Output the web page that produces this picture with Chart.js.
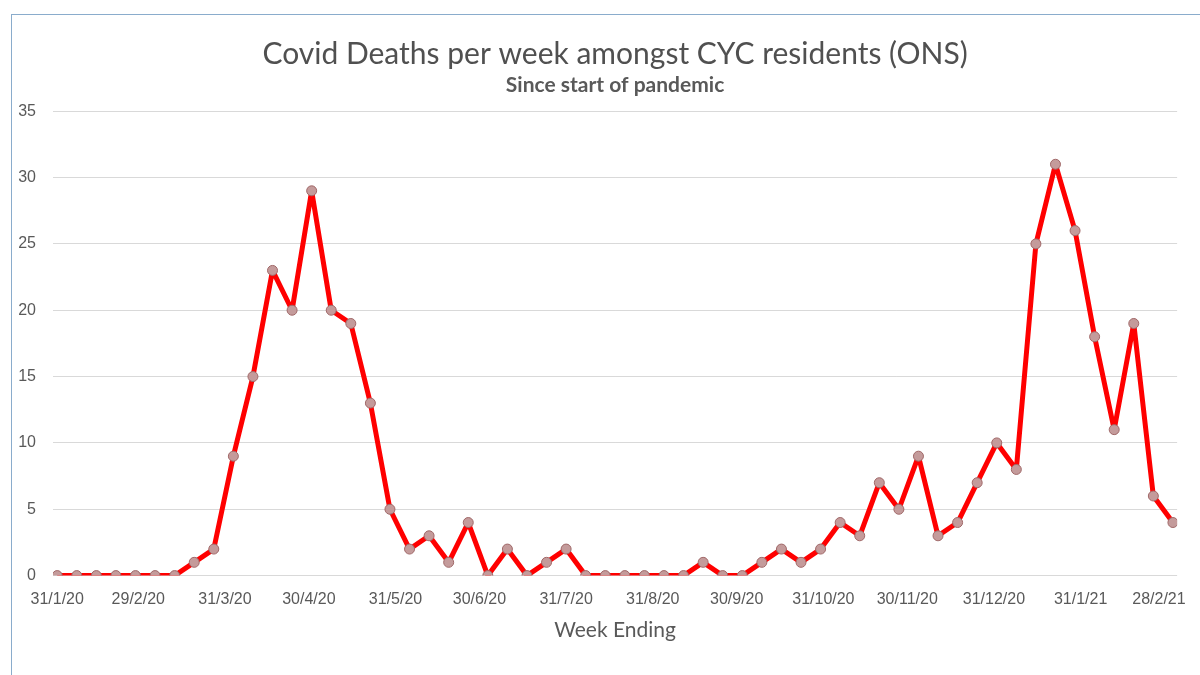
<!DOCTYPE html>
<html>
<head>
<meta charset="utf-8">
<title>Covid Deaths per week amongst CYC residents (ONS)</title>
<script src="https://cdn.jsdelivr.net/npm/chart.js@4/dist/chart.umd.min.js"></script>
<style>
  html, body { margin: 0; padding: 0; background: #fff; }
  #wrap { position: relative; width: 1200px; height: 675px; overflow: hidden; }
  #frame { position: absolute; left: 11px; top: 14px; width: 1300px; height: 800px;
           border-left: 1px solid #8aaccc; border-top: 1px solid #8aaccc; pointer-events: none; }
  canvas { position: absolute; left: 0; top: 0; }
</style>
</head>
<body>
<div id="wrap">
  <canvas id="deathsChart" width="1200" height="675"></canvas>
  <div id="frame"></div>
</div>
<script>
// week ending dates (ONS weeks, Fridays)
const weekEnding = [
  '31/1/20', '7/2/20', '14/2/20', '21/2/20', '28/2/20', '6/3/20', '13/3/20', '20/3/20', '27/3/20',
  '3/4/20', '10/4/20', '17/4/20', '24/4/20', '1/5/20', '8/5/20', '15/5/20', '22/5/20', '29/5/20',
  '5/6/20', '12/6/20', '19/6/20', '26/6/20', '3/7/20', '10/7/20', '17/7/20', '24/7/20', '31/7/20',
  '7/8/20', '14/8/20', '21/8/20', '28/8/20', '4/9/20', '11/9/20', '18/9/20', '25/9/20',
  '2/10/20', '9/10/20', '16/10/20', '23/10/20', '30/10/20', '6/11/20', '13/11/20', '20/11/20', '27/11/20',
  '4/12/20', '11/12/20', '18/12/20', '25/12/20', '1/1/21', '8/1/21', '15/1/21', '22/1/21', '29/1/21',
  '5/2/21', '12/2/21', '19/2/21', '26/2/21', '5/3/21'
];
const deaths = [
  0, 0, 0, 0, 0, 0, 0, 1, 2,
  9, 15, 23, 20, 29, 20, 19, 13, 5,
  2, 3, 1, 4, 0, 2, 0, 1, 2,
  0, 0, 0, 0, 0, 0, 1, 0,
  0, 1, 2, 1, 2, 4, 3, 7, 5,
  9, 3, 4, 7, 10, 8, 25, 31, 26,
  18, 11, 19, 6, 4
];
// axis labels (month ends)
const tickDates = [
  '31/1/20', '29/2/20', '31/3/20', '30/4/20', '31/5/20', '30/6/20', '31/7/20',
  '31/8/20', '30/9/20', '31/10/20', '30/11/20', '31/12/20', '31/1/21', '28/2/21'
];
const yTicks = [0, 5, 10, 15, 20, 25, 30, 35];

function dayNum(s) {
  const [d, m, y] = s.split('/').map(Number);
  return Date.UTC(2000 + y, m - 1, d) / 864e5;
}
const origin = dayNum(weekEnding[0]);
const tickLabel = {};
tickDates.forEach(t => { tickLabel[dayNum(t) - origin] = t; });

const grey = '#595959';

var ctx = document.getElementById('deathsChart').getContext('2d');
new Chart(ctx, {
  type: 'line',
  data: {
    datasets: [{
      label: 'Deaths',
      data: weekEnding.map((w, i) => ({ x: dayNum(w) - origin, y: deaths[i] })),
      borderColor: '#ff0000',
      borderWidth: 5,
      borderJoinStyle: 'round',
      tension: 0,
      pointRadius: 5,
      pointBackgroundColor: '#c49b9b',
      pointBorderColor: '#a06868',
      pointBorderWidth: 1
    }]
  },
  options: {
    responsive: false,
    animation: false,
    layout: { padding: { left: 0, right: 20, top: 0, bottom: 32 } },
    plugins: {
      legend: { display: false },
      tooltip: { enabled: false },
      // fullSize false -> titles centred over the plot area like the original
      title: {
        display: true,
        fullSize: false,
        text: 'Covid Deaths per week amongst CYC residents (ONS)',
        color: '#505050',
        font: { family: 'Lato', size: 30, weight: 'normal' },
        padding: { top: 36, bottom: 1 }
      },
      subtitle: {
        display: true,
        fullSize: false,
        text: 'Since start of pandemic',
        color: grey,
        font: { family: 'Lato', size: 21, weight: 'bold' },
        padding: { top: 0, bottom: 13 }
      }
    },
    scales: {
      x: {
        type: 'linear',
        min: -1.5,
        max: 400.5,
        afterBuildTicks: axis => { axis.ticks = tickDates.map(t => ({ value: dayNum(t) - origin })); },
        ticks: {
          autoSkip: false,
          maxRotation: 0,
          padding: 14,
          color: grey,
          font: { family: 'Liberation Sans', size: 16 },
          callback: v => tickLabel[v] || ''
        },
        grid: { display: false, drawTicks: false },
        border: { display: false },
        title: {
          display: true,
          text: 'Week Ending',
          color: grey,
          font: { family: 'Lato', size: 21 },
          padding: { top: -5, bottom: 0 }
        }
      },
      y: {
        min: 0,
        max: 35,
        afterBuildTicks: axis => { axis.ticks = yTicks.map(v => ({ value: v })); },
        afterFit: scale => { scale.width = 53; },
        ticks: {
          padding: 17,
          color: grey,
          font: { family: 'Liberation Sans', size: 16 }
        },
        grid: { color: '#d9d9d9', lineWidth: 1, drawTicks: false },
        border: { display: false }
      }
    }
  }
});
</script>
</body>
</html>
